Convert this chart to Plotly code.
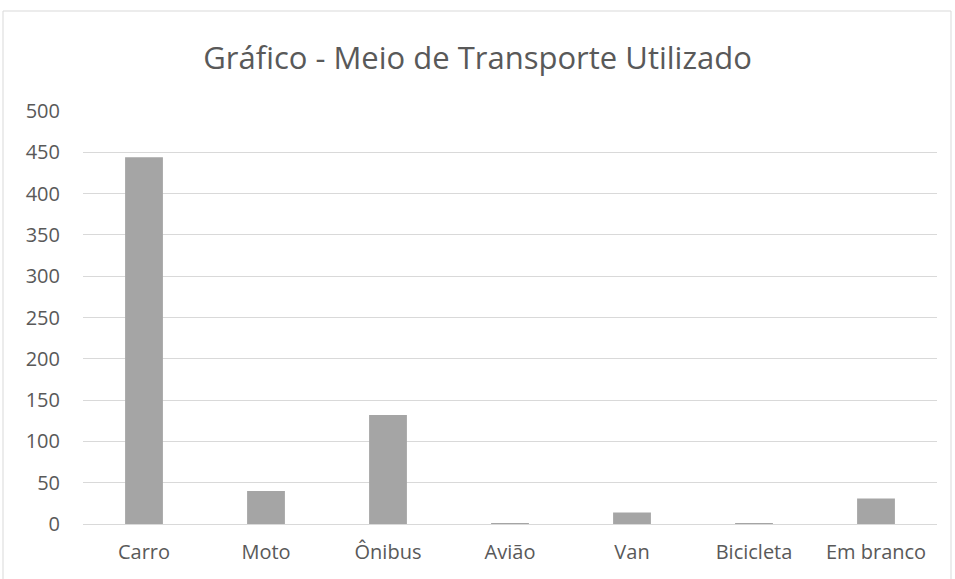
import plotly.graph_objects as go

categories = ["Carro", "Moto", "Ônibus", "Avião", "Van", "Bicicleta", "Em branco"]
values = [444, 40, 132, 1, 14, 1, 31]
y_ticks = [0, 50, 100, 150, 200, 250, 300, 350, 400, 450, 500]

W, H = 955, 579
L, R, T, B = 83, 18, 111, 55
pw, ph = W - L - R, H - T - B

fig = go.Figure(go.Bar(x=categories, y=values, marker=dict(color="#a5a5a5", line=dict(width=0))))

fig.update_layout(
    width=W, height=H,
    margin=dict(l=L, r=R, t=T, b=B),
    paper_bgcolor="white", plot_bgcolor="white",
    bargap=0.69,
    showlegend=False,
    font=dict(family="Open Sans", color="#595959", size=20),
    title=dict(text="Gráfico - Meio de Transporte Utilizado", x=0.5, xanchor="center",
               y=1 - 58 / H, yanchor="middle",
               font=dict(family="Open Sans", size=31, color="#595959")),
    xaxis=dict(showgrid=False, showline=True, linecolor="#d9d9d9", linewidth=1,
               ticks="", ticklabelstandoff=10, tickfont=dict(size=20, color="#595959")),
    yaxis=dict(range=[0, 500], tickvals=y_ticks, showgrid=True, gridcolor="#d9d9d9", gridwidth=1,
               zeroline=False, showline=False, ticks="", ticklabelstandoff=22,
               tickfont=dict(size=20, color="#595959")),
    shapes=[dict(type="rect", xref="paper", yref="paper",
                 x0=(3 - L) / pw, x1=(951 - L) / pw,
                 y0=(H - B - 600) / ph, y1=(H - B - 11) / ph,
                 line=dict(color="#d9d9d9", width=1), fillcolor="rgba(0,0,0,0)", layer="below")],
)

fig.write_html("out.html", config={"displayModeBar": False},
               post_script="document.body.style.margin='0';document.body.style.padding='0';")
